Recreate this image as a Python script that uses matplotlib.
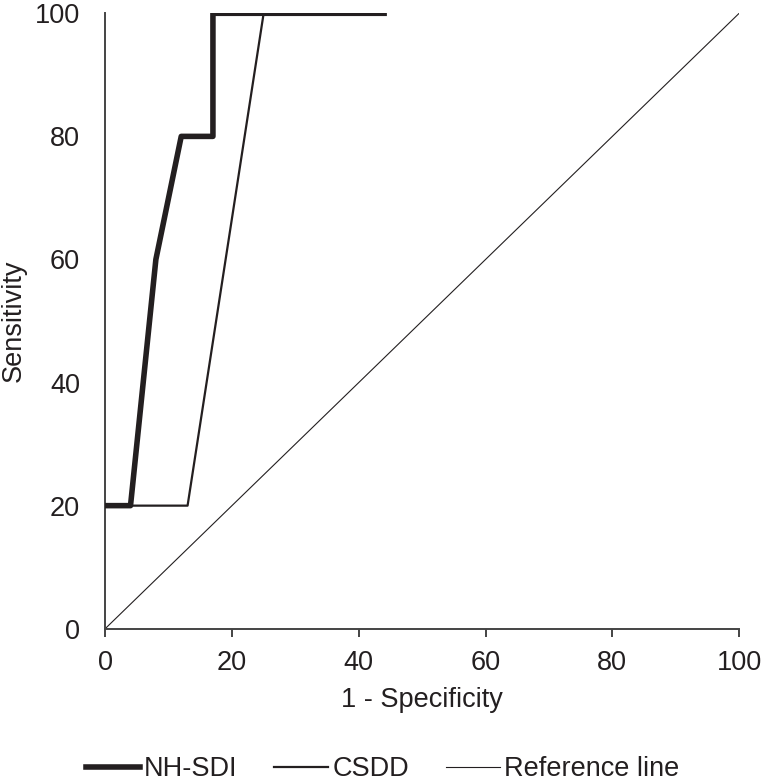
import matplotlib.pyplot as plt

plt.rcParams['font.family'] = ['Liberation Sans', 'DejaVu Sans']

# ROC data (1 - specificity, sensitivity), in %
nhsdi_x = [0, 4, 8, 12, 17, 17, 44]
nhsdi_y = [20, 20, 60, 80, 80, 100, 100]
csdd_x = [0, 13, 25]
csdd_y = [20, 20, 100]
ref_x = [0, 100]
ref_y = [0, 100]

ink = '#231f20'
axc = '#444444'
fs = 19.5

fig = plt.figure(figsize=(7.62, 7.82), dpi=100)
ax = fig.add_axes([0.138, 0.196, 0.832, 0.787])

ax.plot(ref_x, ref_y, color=ink, lw=0.8, label='Reference line', zorder=2)
ax.plot(csdd_x, csdd_y, color=ink, lw=1.6, label='CSDD', zorder=3)
ax.plot(nhsdi_x, nhsdi_y, color=ink, lw=4, label='NH-SDI', zorder=4)

ax.set_xlim(0, 100)
ax.set_ylim(0, 100)
ax.set_xticks(range(0, 101, 20))
ax.set_yticks(range(0, 101, 20))
ax.spines['top'].set_visible(False)
ax.spines['right'].set_visible(False)
for s in ['left', 'bottom']:
    ax.spines[s].set_color(axc)
    ax.spines[s].set_linewidth(1.4)
ax.tick_params(axis='x', direction='out', length=6, width=1.4, color=axc,
               labelsize=fs, labelcolor=ink, pad=9)
ax.tick_params(axis='y', length=0, labelsize=fs, labelcolor=ink, pad=18)
ax.set_xlabel('1 - Specificity', fontsize=fs, color=ink, labelpad=8)
ax.set_ylabel('Sensitivity', fontsize=fs, color=ink, labelpad=6)

handles, labels = ax.get_legend_handles_labels()
order = [2, 1, 0]
fig.legend([handles[i] for i in order], [labels[i] for i in order],
           loc='center', bbox_to_anchor=(0.502, 0.016), ncol=3, frameon=False,
           fontsize=fs, handlelength=2.0, handletextpad=0.15, columnspacing=1.35,
           labelcolor=ink, borderpad=0)

fig.savefig('out.png', dpi=100)
